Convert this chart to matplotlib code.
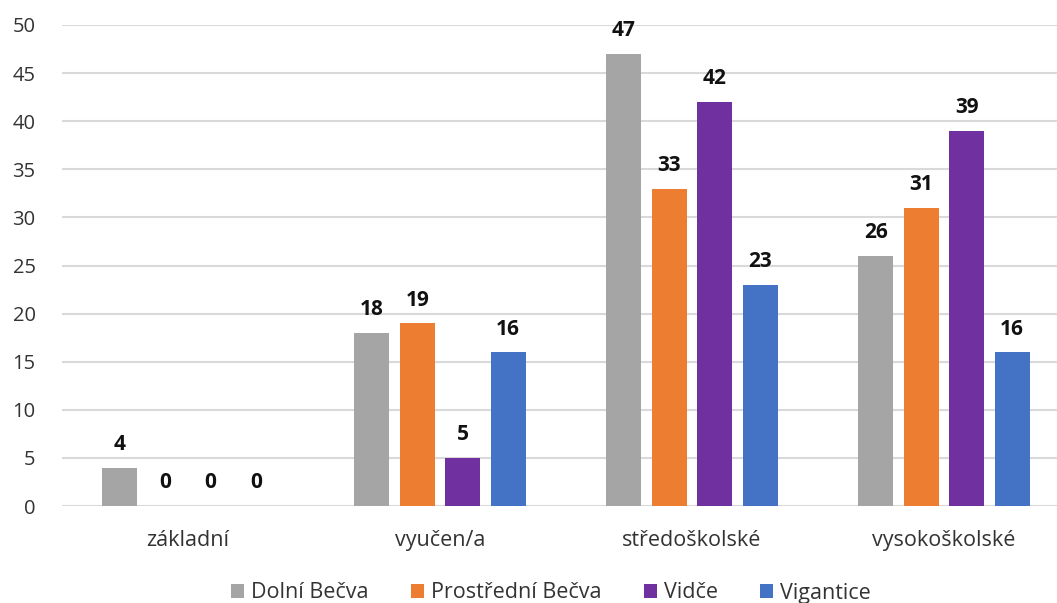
import matplotlib
matplotlib.use("Agg")
import matplotlib.pyplot as plt
import numpy as np

categories = ["základní", "vyučen/a", "středoškolské", "vysokoškolské"]
series_names = ["Dolní Bečva", "Prostřední Bečva", "Vidče", "Vigantice"]
dolni_becva = [4, 18, 47, 26]
prostredni_becva = [0, 19, 33, 31]
vidce = [0, 5, 42, 39]
vigantice = [0, 16, 23, 16]
colors = ["#A5A5A5", "#ED7D31", "#7030A0", "#4472C4"]

plt.rcParams['font.family'] = ['Open Sans', 'DejaVu Sans']

fig = plt.figure(figsize=(10.57, 6.03), dpi=100)
ax = fig.add_axes([62/1057, 97/603, 1008/1057, 481/603])

data = [dolni_becva, prostredni_becva, vidce, vigantice]
x = np.arange(len(categories))
step = 0.18
width = 0.139
handles = []
for i, (name, vals, c) in enumerate(zip(series_names, data, colors)):
    pos = x + (i - 1.5) * step
    b = ax.bar(pos, vals, width=width, color=c, label=name, zorder=3)
    handles.append(b)
    for p, v in zip(pos, vals):
        ax.annotate(str(v), (p, v), xytext=(0, 9), textcoords="offset points",
                    ha="center", va="bottom", fontsize=15, fontweight="bold",
                    color="#111111")

ax.set_xlim(-0.5, 3.5)
ax.set_ylim(0, 50)
ax.set_yticks(range(0, 51, 5))
ax.yaxis.grid(True, color="#D9D9D9", linewidth=1.5, zorder=0)
ax.set_axisbelow(True)
for s in ax.spines.values():
    s.set_visible(False)
ax.tick_params(axis="both", length=0, colors="#333333")
ax.tick_params(axis="y", pad=19, labelsize=14.5)
ax.tick_params(axis="x", pad=17, labelsize=15.5)
ax.set_xticks(x)
ax.set_xticklabels(categories)

fig.legend(handles=handles, labels=series_names, loc="center", bbox_to_anchor=(551/1057, 1 - 593/603),
           ncol=4, frameon=False, fontsize=15.5, handlelength=0.6, handleheight=0.6,
           handletextpad=0.35, columnspacing=1.95, labelcolor="#333333")

fig.savefig("out.png", dpi=100)
